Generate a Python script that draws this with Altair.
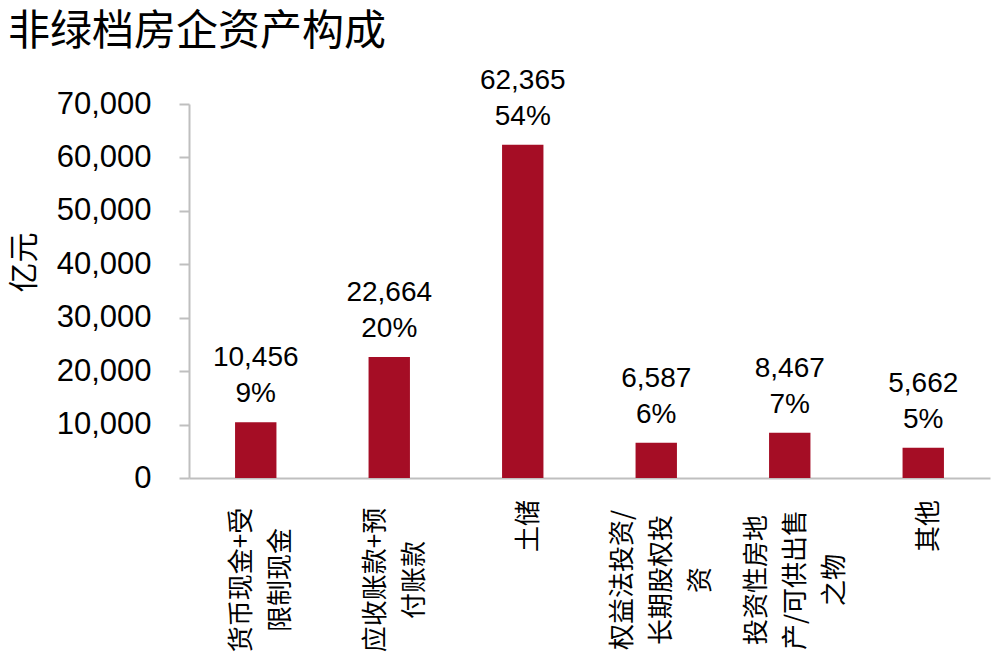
import altair as alt
import pandas as pd

# ---- data ----
categories = ["货币现金+受限制现金", "应收账款+预付账款", "土储",
              "权益法投资/长期股权投资", "投资性房地产/可供出售之物", "其他"]
label_lines = [["货币现金+受", "限制现金"],
               ["应收账款+预", "付账款"],
               ["土储"],
               ["权益法投资/", "长期股权投", "资"],
               ["投资性房地", "产/可供出售", "之物"],
               ["其他"]]
values = [10456, 22664, 62365, 6587, 8467, 5662]
pcts = [9, 20, 54, 6, 7, 5]
y_ticks = [0, 10000, 20000, 30000, 40000, 50000, 60000, 70000]

df = pd.DataFrame({
    "cat": categories,
    "value": values,
    "pct": pcts,
    "lines": label_lines,
    "nlines": [len(l) for l in label_lines],
    "maxlen": [max(len(s) for s in l) for l in label_lines],
})

W, H = 801, 374
CJK = "Noto Sans CJK SC"
NUM = "Liberation Sans"
BAR = "#A50D25"
LH = 39

x_enc = alt.X("cat:N", sort=categories,
              scale=alt.Scale(paddingInner=0.69, paddingOuter=0.345),
              axis=alt.Axis(labels=False, ticks=False, title=None,
                            domainColor="#bfbfbf", domainWidth=2))

bars = alt.Chart(df).mark_bar(color=BAR).encode(
    x=x_enc,
    y=alt.Y("value:Q",
            scale=alt.Scale(domain=[0, 70000], nice=False),
            axis=alt.Axis(values=y_ticks, format=",d", grid=False,
                          title="亿元", titleFont=CJK, titleFontSize=30,
                          titleFontWeight="normal", titleColor="#000000",
                          titleAngle=-90, titleX=-165, titleY=158,
                          titleAlign="center", titleBaseline="middle",
                          labelFont=NUM, labelFontSize=31, labelColor="#000000",
                          labelPadding=28, tickSize=10, tickColor="#bfbfbf",
                          tickWidth=2, domainColor="#bfbfbf", domainWidth=2)),
)

vlabels = alt.Chart(df).transform_calculate(
    txt="[format(datum.value, ','), datum.pct + '%']"
).mark_text(font=NUM, fontSize=28, lineHeight=36, baseline="bottom",
            align="center", dy=-50, color="#000000").encode(
    x=alt.X("cat:N", sort=categories),
    y=alt.Y("value:Q"),
    text="txt:N",
)

main = alt.layer(bars, vlabels)

# category labels: rotated, multi-line, lines centred on the bar
xlabel_layers = []
for n in sorted(set(df["nlines"])):
    xlabel_layers.append(
        alt.Chart(df).transform_filter(f"datum.nlines == {n}").transform_calculate(
            ly=f"{H} + 21 + datum.maxlen * 13.5"
        ).mark_text(font=CJK, fontSize=26, lineHeight=LH, angle=270,
                    align="center", baseline="middle", color="#000000",
                    dy=-(n - 1) * LH / 2 + 6).encode(
            x=alt.X("cat:N", sort=categories),
            y=alt.Y("ly:Q", scale=None, axis=None),
            text="lines",
        )
    )
xlabels = alt.layer(*xlabel_layers)

chart = alt.layer(main, xlabels).resolve_scale(
    y="independent"
).properties(
    width=W, height=H,
    autosize=alt.AutoSizeParams(type="none"),
    padding={"left": 181, "top": 96, "right": 2, "bottom": 178},
    title=alt.TitleParams("非绿档房企资产构成", anchor="start", frame="group",
                          font=CJK, fontSize=42, fontWeight="normal",
                          color="#000000", dx=-181, dy=-9, baseline="top"),
).configure_view(stroke=None)

chart.save("out.html", embed_options={"renderer": "svg", "actions": False})
